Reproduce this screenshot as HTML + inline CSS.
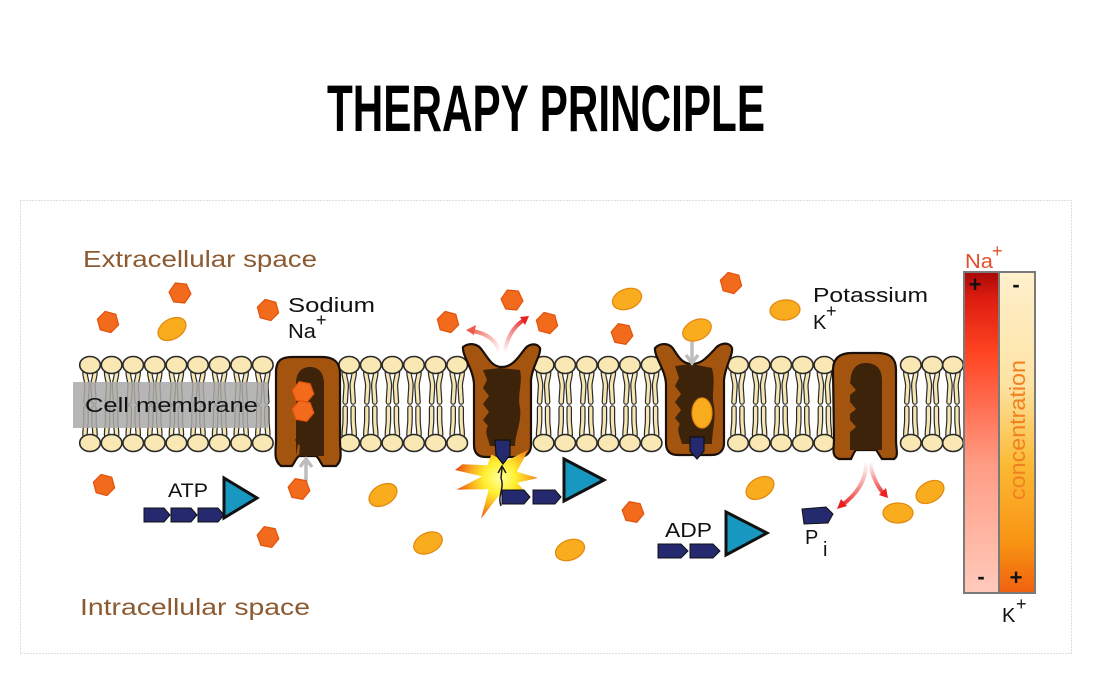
<!DOCTYPE html>
<html><head><meta charset="utf-8"><style>
html,body{margin:0;padding:0;background:#fff;}
svg{display:block;}
text{font-family:"Liberation Sans",sans-serif;}
</style></head><body>
<svg width="1095" height="676" viewBox="0 0 1095 676" xmlns="http://www.w3.org/2000/svg">
<defs>
  <polygon id="hx" points="11,0 5.5,9.5 -5.5,9.5 -11,0 -5.5,-9.5 5.5,-9.5" fill="#f26a1b" stroke="#e2520c" stroke-width="1.2"/>
  <ellipse id="ov" rx="15" ry="10" fill="#f9ad1e" stroke="#e48a10" stroke-width="1.3"/>
  <g id="lip">
    <g fill="none" stroke="#2a2a2a" stroke-width="5.6" stroke-linecap="round">
      <path d="M-5,372 C-5,378 -3,380 -3,386 L-4,402"/>
      <path d="M5,372 C5,378 3,380 3,386 L4,402"/>
      <path d="M-4,408 L-4,420 C-4,426 -5,428 -5,435"/>
      <path d="M4,408 L4,420 C4,426 5,428 5,435"/>
    </g>
    <g fill="none" stroke="#f6e7b2" stroke-width="3.2" stroke-linecap="round">
      <path d="M-5,372 C-5,378 -3,380 -3,386 L-4,402"/>
      <path d="M5,372 C5,378 3,380 3,386 L4,402"/>
      <path d="M-4,408 L-4,420 C-4,426 -5,428 -5,435"/>
      <path d="M4,408 L4,420 C4,426 5,428 5,435"/>
    </g>
    <ellipse cx="0" cy="365" rx="10.3" ry="8.5" fill="#f9e8b3" stroke="#2a2a2a" stroke-width="1.6"/>
    <ellipse cx="0" cy="443" rx="10.3" ry="8.5" fill="#f9e8b3" stroke="#2a2a2a" stroke-width="1.6"/>
  </g>
  <linearGradient id="naBar" x1="0" y1="0" x2="0" y2="1">
    <stop offset="0" stop-color="#a80808"/>
    <stop offset="0.08" stop-color="#dc1c10"/>
    <stop offset="0.25" stop-color="#ff4422"/>
    <stop offset="0.6" stop-color="#ff9c84"/>
    <stop offset="1" stop-color="#ffcabb"/>
  </linearGradient>
  <linearGradient id="kBar" x1="0" y1="0" x2="0" y2="1">
    <stop offset="0" stop-color="#fff0cc"/>
    <stop offset="0.35" stop-color="#fde3a4"/>
    <stop offset="0.6" stop-color="#fbba34"/>
    <stop offset="0.85" stop-color="#f89212"/>
    <stop offset="1" stop-color="#f06010"/>
  </linearGradient>
  <radialGradient id="boom" cx="500" cy="478" r="45" gradientUnits="userSpaceOnUse">
    <stop offset="0" stop-color="#ffffa0"/>
    <stop offset="0.35" stop-color="#fff030"/>
    <stop offset="0.65" stop-color="#fbb020"/>
    <stop offset="1" stop-color="#e84a10"/>
  </radialGradient>
  <linearGradient id="ra1" x1="500" y1="352" x2="468" y2="330" gradientUnits="userSpaceOnUse">
    <stop offset="0" stop-color="#ffffff"/><stop offset="1" stop-color="#f05a4a"/>
  </linearGradient>
  <linearGradient id="ra2" x1="504" y1="352" x2="527" y2="318" gradientUnits="userSpaceOnUse">
    <stop offset="0" stop-color="#ffffff"/><stop offset="1" stop-color="#e82020"/>
  </linearGradient>
  <linearGradient id="ra3" x1="866" y1="462" x2="840" y2="507" gradientUnits="userSpaceOnUse">
    <stop offset="0" stop-color="#ffffff"/><stop offset="1" stop-color="#e82020"/>
  </linearGradient>
  <linearGradient id="ra4" x1="870" y1="462" x2="886" y2="496" gradientUnits="userSpaceOnUse">
    <stop offset="0" stop-color="#ffffff"/><stop offset="1" stop-color="#e82020"/>
  </linearGradient>
</defs>

<!-- Title -->
<text x="327" y="131" font-size="66" font-weight="bold" textLength="438" lengthAdjust="spacingAndGlyphs" fill="#000">THERAPY PRINCIPLE</text>

<!-- frame -->
<rect x="20.5" y="200.5" width="1051" height="453" fill="none" stroke="#bdbdbd" stroke-width="1" stroke-dasharray="1,2"/>

<!-- labels -->
<text x="83" y="267" font-size="23" fill="#8c5a30" textLength="234" lengthAdjust="spacingAndGlyphs">Extracellular space</text>
<text x="80" y="615" font-size="23" fill="#8c5a30" textLength="230" lengthAdjust="spacingAndGlyphs">Intracellular space</text>

<!-- lipids -->
<use href="#lip" x="90"/><use href="#lip" x="111.6"/><use href="#lip" x="133.2"/><use href="#lip" x="154.8"/>
<use href="#lip" x="176.4"/><use href="#lip" x="198"/><use href="#lip" x="219.6"/><use href="#lip" x="241.2"/>
<use href="#lip" x="262.8"/>
<use href="#lip" x="349.2"/><use href="#lip" x="370.8"/><use href="#lip" x="392.4"/><use href="#lip" x="414"/>
<use href="#lip" x="435.6"/><use href="#lip" x="457.2"/>
<use href="#lip" x="543.6"/><use href="#lip" x="565.2"/><use href="#lip" x="586.8"/><use href="#lip" x="608.4"/>
<use href="#lip" x="630"/><use href="#lip" x="651.6"/>
<use href="#lip" x="738"/><use href="#lip" x="759.6"/><use href="#lip" x="781.2"/><use href="#lip" x="802.8"/>
<use href="#lip" x="824.4"/>
<use href="#lip" x="910.8"/><use href="#lip" x="932.4"/><use href="#lip" x="953"/>

<!-- cell membrane label -->
<rect x="73" y="382" width="195" height="46" fill="#a9a9a9" opacity="0.85"/>
<text x="85" y="412" font-size="20" fill="#111" textLength="173" lengthAdjust="spacingAndGlyphs">Cell membrane</text>

<!-- Pump 1 -->
<path d="M276,372 C276,360 282,357 292,357 L322,357 C334,357 340,362 340,374 L340,440 C340,452 343,460 336,466 L323,466 C320,462 319,458 316,456 L299,456 C296,458 295,462 292,466 L281,466 C273,460 276,450 276,440 Z" fill="#a3540f" stroke="#1a1008" stroke-width="2.2"/>
<path d="M296,456 L296,384 C296,372 302,367 310,367 C318,367 324,372 324,384 L324,456 L316,456 L299,456 L300,446 L295,440 L300,432 Z" fill="#3d2309"/>
<use href="#hx" transform="translate(303,392) rotate(10)"/>
<use href="#hx" transform="translate(303,411) rotate(10)"/>

<!-- Pump 2 -->
<path d="M463,347 C470,342 478,344 482,350 C488,358 492,367 502,367 C512,367 518,358 524,350 C528,344 536,342 540,348 C541,356 532,366 531,380 L531,445 C531,453 526,457 518,457 L486,457 C478,457 474,453 474,445 L474,385 C474,370 462,356 463,347 Z" fill="#a3540f" stroke="#1a1008" stroke-width="2.2"/>
<path d="M483,370 L500,368 L520,370 C523,384 517,394 520,408 C522,422 515,434 515,446 L490,446 C488,438 484,432 488,426 L483,420 L489,412 L483,404 L489,396 L483,388 L487,380 Z" fill="#3d2309"/>

<!-- Pump 3 -->
<path d="M655,348 C661,342 670,343 674,350 C679,358 683,364 692,364 C702,364 708,356 714,350 C719,343 729,341 732,348 C733,356 725,366 724,380 L724,443 C724,451 719,455 711,455 L678,455 C670,455 666,451 666,443 L666,385 C666,370 654,357 655,348 Z" fill="#a3540f" stroke="#1a1008" stroke-width="2.2"/>
<path d="M675,366 L692,364 L712,368 C716,384 711,392 714,406 C716,420 712,432 712,444 L682,444 C680,436 676,430 680,424 L675,418 L681,410 L675,402 L681,394 L675,386 L679,378 Z" fill="#3d2309"/>
<ellipse cx="702" cy="413" rx="10" ry="15" fill="#f9ad1e" stroke="#e48a10" stroke-width="1.2"/>

<!-- Pump 4 -->
<path d="M833,370 C833,358 840,353 852,353 L877,353 C890,353 896,358 896,370 L896,440 C896,450 899,456 894,459 L882,459 C879,455 878,452 876,450 L856,450 C854,452 853,455 851,459 L839,459 C831,456 834,448 834,440 Z" fill="#a3540f" stroke="#1a1008" stroke-width="2.2"/>
<path d="M850,450 L850,432 L856,427 L850,420 L850,414 L856,409 L850,402 L850,395 L856,390 L850,383 L851,376 C853,367 858,363 866,363 C875,363 882,368 882,380 L882,450 Z" fill="#3d2309"/>

<!-- explosion -->
<polygon points="538,478 517.4,482.7 526,493 510.3,490.3 509.6,504.3 500,494 481,518.8 488.7,489.3 456.5,489.6 482.1,476.4 455,470 462.4,464.3 487.3,465.3 491.4,454.5 506.2,461.1 528.3,449.7 516.9,471.8" fill="url(#boom)"/>

<!-- phosphates in pumps -->
<path d="M495,440 L510,440 L510,455 L503,464 L496,455 Z" fill="#25296e" stroke="#111" stroke-width="1.2"/>
<path d="M690,437 L704,437 L704,451 L697,459 L690,451 Z" fill="#25296e" stroke="#111" stroke-width="1.2"/>

<!-- small black arrow in explosion -->
<path d="M501,506 C497,496 505,488 501,478 L502,468" fill="none" stroke="#111" stroke-width="1.4"/>
<path d="M498,473 L502,466 L506,473" fill="none" stroke="#111" stroke-width="1.4"/>

<!-- ATP (left) -->
<text x="168" y="497" font-size="19" fill="#111" textLength="40" lengthAdjust="spacingAndGlyphs">ATP</text>
<g fill="#25296e" stroke="#111" stroke-width="1">
  <path d="M144,508 L164,508 L170,515 L164,522 L144,522 Z"/>
  <path d="M171,508 L191,508 L197,515 L191,522 L171,522 Z"/>
  <path d="M198,508 L218,508 L224,515 L218,522 L198,522 Z"/>
</g>
<path d="M224,478 L257,498 L224,518 Z" fill="#1898c0" stroke="#111" stroke-width="3" stroke-linejoin="miter"/>

<!-- ADP at explosion -->
<g fill="#25296e" stroke="#111" stroke-width="1">
  <path d="M502,490 L524,490 L530,497 L524,504 L502,504 Z"/>
  <path d="M533,490 L555,490 L561,497 L555,504 L533,504 Z"/>
</g>
<path d="M564,459 L604,480 L564,501 Z" fill="#1898c0" stroke="#111" stroke-width="3"/>

<!-- ADP right -->
<text x="665" y="537" font-size="20" fill="#111" textLength="47" lengthAdjust="spacingAndGlyphs">ADP</text>
<g fill="#25296e" stroke="#111" stroke-width="1">
  <path d="M658,544 L681,544 L688,551 L681,558 L658,558 Z"/>
  <path d="M690,544 L713,544 L720,551 L713,558 L690,558 Z"/>
</g>
<path d="M726,512 L767,533 L726,555 Z" fill="#1898c0" stroke="#111" stroke-width="3"/>

<!-- Pi -->
<path d="M802,509 L826,507 L833,514 L828,523 L804,524 Z" fill="#25296e" stroke="#111" stroke-width="1"/>
<text x="805" y="544" font-size="20" fill="#111">P</text>
<text x="823" y="556" font-size="20" fill="#111">i</text>

<!-- Sodium / Potassium labels -->
<text x="288" y="312" font-size="20" fill="#111" textLength="87" lengthAdjust="spacingAndGlyphs">Sodium</text>
<text x="288" y="338" font-size="20" fill="#111" textLength="28" lengthAdjust="spacingAndGlyphs">Na</text>
<text x="316" y="326" font-size="18" fill="#111">+</text>
<text x="813" y="302" font-size="20" fill="#111" textLength="115" lengthAdjust="spacingAndGlyphs">Potassium</text>
<text x="813" y="329" font-size="20" fill="#111">K</text>
<text x="826" y="317" font-size="18" fill="#111">+</text>

<!-- gray arrows -->
<g stroke="#bdbdbd" stroke-width="3.5" fill="none">
  <path d="M306,482 L306,462"/>
  <path d="M300,467 L306,459 L312,467"/>
  <path d="M692,340 L692,360"/>
  <path d="M686,355 L692,363 L698,355"/>
</g>

<!-- red curved arrows -->
<g fill="none" stroke-width="4" stroke-linecap="round">
  <path d="M500,354 C497,340 486,333 472,331" stroke="url(#ra1)"/>
  <path d="M504,354 C507,337 514,326 524,320" stroke="url(#ra2)"/>
  <path d="M866,462 C867,480 856,495 842,505" stroke="url(#ra3)"/>
  <path d="M870,462 C872,476 877,486 884,494" stroke="url(#ra4)"/>
</g>
<path d="M466,330 L476,325 L474,335 Z" fill="#f05a4a"/>
<path d="M529,316 L520,317 L525,325 Z" fill="#e82020"/>
<path d="M837,509 L841,499 L847,506 Z" fill="#e82020"/>
<path d="M888,498 L879,495 L886,488 Z" fill="#e82020"/>

<!-- Na+ hexagons -->
<use href="#hx" transform="translate(108,322) rotate(15)"/>
<use href="#hx" transform="translate(180,293) rotate(5)"/>
<use href="#hx" transform="translate(268,310) rotate(15)"/>
<use href="#hx" transform="translate(299,489) rotate(10)"/>
<use href="#hx" transform="translate(104,485) rotate(15)"/>
<use href="#hx" transform="translate(268,537) rotate(10)"/>
<use href="#hx" transform="translate(448,322) rotate(15)"/>
<use href="#hx" transform="translate(512,300) rotate(5)"/>
<use href="#hx" transform="translate(547,323) rotate(15)"/>
<use href="#hx" transform="translate(622,334) rotate(10)"/>
<use href="#hx" transform="translate(731,283) rotate(15)"/>
<use href="#hx" transform="translate(633,512) rotate(10)"/>

<!-- K+ ovals -->
<use href="#ov" transform="translate(172,329) rotate(-30)"/>
<use href="#ov" transform="translate(627,299) rotate(-20)"/>
<use href="#ov" transform="translate(697,330) rotate(-25)"/>
<use href="#ov" transform="translate(383,495) rotate(-30)"/>
<use href="#ov" transform="translate(428,543) rotate(-25)"/>
<use href="#ov" transform="translate(570,550) rotate(-20)"/>
<use href="#ov" transform="translate(760,488) rotate(-30)"/>
<use href="#ov" transform="translate(785,310) rotate(-5)"/>
<use href="#ov" transform="translate(898,513) rotate(0)"/>
<use href="#ov" transform="translate(930,492) rotate(-30)"/>

<!-- concentration bars -->
<rect x="964" y="272" width="35" height="321" fill="url(#naBar)" stroke="#7a7a7a" stroke-width="2"/>
<rect x="999" y="272" width="36" height="321" fill="url(#kBar)" stroke="#7a7a7a" stroke-width="2"/>
<text x="975" y="292" font-size="22" font-weight="bold" fill="#111" text-anchor="middle">+</text>
<text x="1016" y="292" font-size="22" font-weight="bold" fill="#111" text-anchor="middle">-</text>
<text x="981" y="584" font-size="22" font-weight="bold" fill="#111" text-anchor="middle">-</text>
<text x="1016" y="585" font-size="22" font-weight="bold" fill="#111" text-anchor="middle">+</text>
<text transform="translate(1025,500) rotate(-90)" font-size="22" fill="#f08020" textLength="140" lengthAdjust="spacingAndGlyphs">concentration</text>
<text x="965" y="268" font-size="20" fill="#e0502a" textLength="28" lengthAdjust="spacingAndGlyphs">Na</text>
<text x="992" y="257" font-size="18" fill="#e0502a">+</text>
<text x="1002" y="622" font-size="20" fill="#111">K</text>
<text x="1016" y="610" font-size="18" fill="#111">+</text>
</svg>
</body></html>
